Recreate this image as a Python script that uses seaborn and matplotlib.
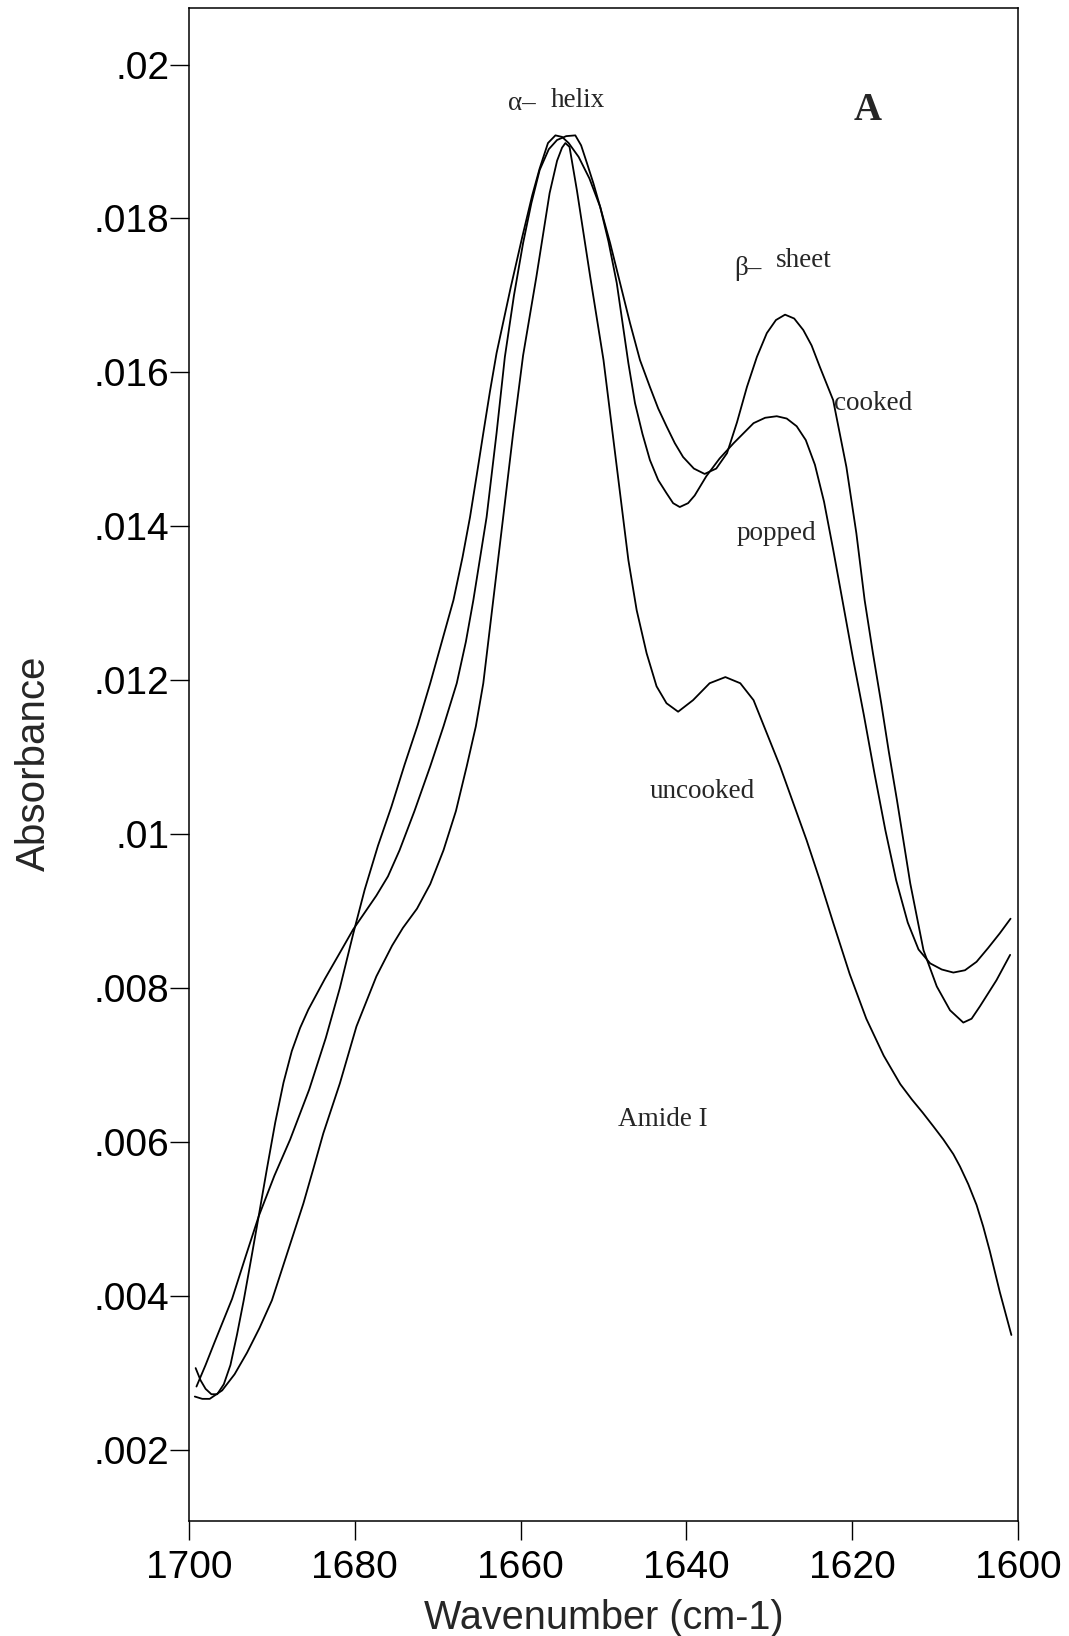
import numpy as np
import pandas as pd
import matplotlib
matplotlib.use('Agg')
import matplotlib.pyplot as plt
import seaborn as sns

# FTIR amide I spectra (wavenumber cm-1, absorbance)
wn_uncooked = [1699.3, 1698.4, 1697.5, 1696.0, 1694.5, 1693.0, 1691.5, 1690.0, 1688.1, 1686.2,
               1685.0, 1683.8, 1681.8, 1679.8, 1677.4, 1675.5, 1674.2, 1672.5, 1670.9, 1669.3,
               1667.8, 1666.5, 1665.4, 1664.5, 1663.3, 1662.1, 1660.9, 1659.7, 1658.1, 1656.5,
               1655.6, 1655.0, 1654.6, 1654.1, 1653.2, 1651.6, 1650.0, 1648.5, 1647.0, 1646.0,
               1644.8, 1643.6, 1642.4, 1641.0, 1639.2, 1637.2, 1635.3, 1633.5, 1631.9, 1630.3,
               1628.7, 1627.1, 1625.5, 1623.9, 1622.3, 1620.3, 1618.3, 1616.2, 1614.2, 1612.8,
               1611.5, 1610.2, 1609.0, 1607.8, 1607.0, 1606.0, 1605.0, 1604.2, 1603.4, 1602.2,
               1600.8]
abs_uncooked = [0.00269, 0.00266, 0.00266, 0.00277, 0.00298, 0.00326, 0.00358, 0.00394, 0.00457, 0.00520,
                0.00565, 0.00611, 0.00676, 0.00750, 0.00815, 0.00855, 0.00878, 0.00903, 0.00935, 0.00979,
                0.01030, 0.01088, 0.01140, 0.01196, 0.01304, 0.01412, 0.01521, 0.01622, 0.01724, 0.01833,
                0.01875, 0.01892, 0.01898, 0.01893, 0.01836, 0.01724, 0.01616, 0.01486, 0.01356, 0.01291,
                0.01235, 0.01192, 0.01170, 0.01159, 0.01174, 0.01196, 0.01204, 0.01196, 0.01174, 0.01131,
                0.01088, 0.01040, 0.00992, 0.00940, 0.00885, 0.00818, 0.00760, 0.00712, 0.00675, 0.00655,
                0.00638, 0.00620, 0.00603, 0.00584, 0.00568, 0.00545, 0.00518, 0.00490, 0.00458, 0.00405,
                0.00349]

wn_popped = [1699.1, 1698.0, 1696.9, 1694.8, 1693.2, 1691.6, 1689.7, 1687.8, 1685.5, 1683.5,
             1681.8, 1680.2, 1678.8, 1677.2, 1675.6, 1674.0, 1672.4, 1670.9, 1669.5, 1668.1,
             1667.0, 1666.1, 1665.3, 1664.5, 1663.7, 1662.9, 1661.2, 1659.8, 1658.6, 1657.7,
             1656.7, 1655.8, 1655.0, 1654.2, 1653.0, 1651.7, 1650.4, 1649.4, 1648.4, 1647.0,
             1646.2, 1645.3, 1644.4, 1643.4, 1642.4, 1641.6, 1640.8, 1639.8, 1639.0, 1637.6,
             1636.0, 1634.3, 1631.9, 1630.5, 1629.1, 1627.9, 1626.7, 1625.6, 1624.5, 1623.4,
             1622.3, 1621.2, 1619.9, 1618.6, 1617.3, 1616.0, 1614.7, 1613.3, 1612.0, 1610.6,
             1609.2, 1607.8, 1606.4, 1605.0, 1603.6, 1602.2, 1600.9]
abs_popped = [0.00282, 0.00310, 0.00340, 0.00396, 0.00450, 0.00503, 0.00556, 0.00603, 0.00668, 0.00735,
              0.00800, 0.00870, 0.00928, 0.00985, 0.01035, 0.01090, 0.01142, 0.01196, 0.01250, 0.01304,
              0.01360, 0.01412, 0.01466, 0.01521, 0.01575, 0.01625, 0.01710, 0.01776, 0.01830, 0.01865,
              0.01898, 0.01908, 0.01906, 0.01898, 0.01880, 0.01852, 0.01815, 0.01770, 0.01716, 0.01612,
              0.01560, 0.01520, 0.01486, 0.01460, 0.01443, 0.01430, 0.01425, 0.01430, 0.01440, 0.01465,
              0.01488, 0.01508, 0.01534, 0.01541, 0.01543, 0.01540, 0.01530, 0.01512, 0.01480, 0.01432,
              0.01370, 0.01305, 0.01228, 0.01155, 0.01078, 0.01005, 0.00940, 0.00885, 0.00850, 0.00832,
              0.00824, 0.00820, 0.00823, 0.00834, 0.00852, 0.00871, 0.00890]

wn_cooked = [1699.2, 1698.6, 1698.0, 1697.3, 1696.6, 1695.8, 1695.0, 1694.2, 1693.4, 1692.5,
             1691.6, 1690.6, 1689.6, 1688.6, 1687.6, 1686.6, 1685.6, 1684.6, 1683.6, 1682.0,
             1680.2, 1678.8, 1677.4, 1676.0, 1674.6, 1672.8, 1670.9, 1669.3, 1667.7, 1666.6,
             1665.7, 1664.9, 1664.1, 1662.9, 1661.9, 1660.8, 1659.7, 1658.7, 1657.7, 1656.6,
             1655.6, 1654.5, 1653.4, 1652.7, 1652.0, 1651.2, 1650.4, 1649.2, 1648.0, 1646.8,
             1645.6, 1644.4, 1643.4, 1642.4, 1641.4, 1640.4, 1639.1, 1637.8, 1636.4, 1635.1,
             1633.9, 1632.7, 1631.5, 1630.3, 1629.2, 1628.1, 1627.0, 1625.9, 1624.9, 1623.9,
             1622.3, 1620.7, 1619.5, 1618.5, 1617.5, 1616.5, 1615.6, 1614.6, 1613.0, 1611.4,
             1609.8, 1608.2, 1606.6, 1605.6, 1604.6, 1603.6, 1602.6, 1600.95]
abs_cooked = [0.00306, 0.00290, 0.00279, 0.00272, 0.00272, 0.00285, 0.00310, 0.00350, 0.00394, 0.00448,
              0.00503, 0.00565, 0.00625, 0.00677, 0.00718, 0.00748, 0.00772, 0.00792, 0.00812, 0.00842,
              0.00876, 0.00898, 0.00920, 0.00945, 0.00979, 0.01030, 0.01088, 0.01140, 0.01196, 0.01250,
              0.01304, 0.01358, 0.01412, 0.01521, 0.01620, 0.01700, 0.01768, 0.01820, 0.01863, 0.01890,
              0.01902, 0.01907, 0.01908, 0.01895, 0.01872, 0.01845, 0.01815, 0.01768, 0.01716, 0.01664,
              0.01616, 0.01581, 0.01553, 0.01530, 0.01508, 0.01490, 0.01475, 0.01468, 0.01475, 0.01495,
              0.01535, 0.01581, 0.01620, 0.01651, 0.01668, 0.01675, 0.01670, 0.01655, 0.01635, 0.01607,
              0.01564, 0.01477, 0.01391, 0.01304, 0.01235, 0.01170, 0.01108, 0.01044, 0.00936, 0.00849,
              0.00802, 0.00771, 0.00755, 0.00760, 0.00776, 0.00793, 0.00810, 0.00843]

xticks = [1700, 1680, 1660, 1640, 1620, 1600]
yticks = [0.002, 0.004, 0.006, 0.008, 0.010, 0.012, 0.014, 0.016, 0.018, 0.020]
ytick_labels = ['.002', '.004', '.006', '.008', '.01', '.012', '.014', '.016', '.018', '.02']

df = pd.concat([
    pd.DataFrame({'wn': wn_uncooked, 'absorbance': abs_uncooked, 'sample': 'uncooked'}),
    pd.DataFrame({'wn': wn_popped, 'absorbance': abs_popped, 'sample': 'popped'}),
    pd.DataFrame({'wn': wn_cooked, 'absorbance': abs_cooked, 'sample': 'cooked'}),
])

sns.set_style('ticks')
plt.rcParams['font.family'] = ['Liberation Sans', 'DejaVu Sans']

fig = plt.figure(figsize=(10.69, 16.36), dpi=100)
ax = fig.add_axes([0.1768, 0.0705, 0.7755, 0.9246])

sns.lineplot(data=df, x='wn', y='absorbance', units='sample', estimator=None,
             color='black', linewidth=1.3, ax=ax)

ax.set_xlim(1700, 1600)
ax.set_ylim(0.001077, 0.020735)
ax.set_xticks(xticks)
ax.set_xticklabels([str(t) for t in xticks])
ax.set_yticks(yticks)
ax.set_yticklabels(ytick_labels)
ax.tick_params(axis='both', direction='out', width=1.0, colors='black', labelsize=28)
ax.tick_params(axis='x', length=14, pad=7)
ax.tick_params(axis='y', length=13.5, pad=0.8)
for s in ax.spines.values():
    s.set_visible(True)
    s.set_linewidth(1.1)
    s.set_color('black')

ax.set_xlabel('Wavenumber (cm-1)', fontsize=28.5, va='baseline')
ax.xaxis.set_label_coords(0.5, -0.0717)
ax.set_ylabel('Absorbance', fontsize=29, va='baseline')
ax.yaxis.set_label_coords(-0.174, 0.5009)

serif = ['Liberation Serif', 'DejaVu Serif']
ann = dict(family=serif, fontsize=19.5, ha='center', va='baseline')
ax.text(1659.8, 0.01941, 'α–', **ann)
ax.text(1653.1, 0.01945, 'helix', **ann)
ax.text(1632.6, 0.01727, 'β–', **ann)
ax.text(1625.9, 0.01737, 'sheet', **ann)
ax.text(1617.5, 0.01551, 'cooked', **ann)
ax.text(1629.1, 0.01382, 'popped', **ann)
ax.text(1638.1, 0.01047, 'uncooked', **ann)
ax.text(1642.9, 0.00621, 'Amide I', **ann)
ax.text(1618.1, 0.01928, 'A', family=serif, fontsize=28, fontweight='bold',
        ha='center', va='baseline')

fig.savefig('out.png', dpi=100)
